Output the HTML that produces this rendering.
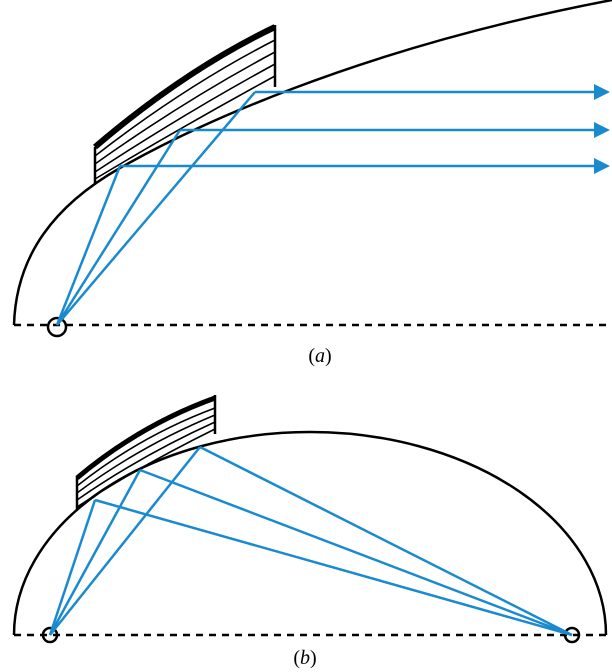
<!DOCTYPE html>
<html><head><meta charset="utf-8"><style>body{margin:0;background:#fff}svg{display:block}</style></head>
<body>
<svg width="612" height="672" viewBox="0 0 612 672">
<g fill="none">
  <path d="M14,325 C16,255 55,205 120,168 S350,50 612,0" stroke="#000" stroke-width="2.5"/>
  <line x1="14" y1="325" x2="612" y2="325" stroke="#000" stroke-width="2.5" stroke-dasharray="7,6"/>
  <circle cx="57" cy="327" r="9" stroke="#000" stroke-width="2.5"/>
  <g stroke="#000">
    <line x1="95" y1="184" x2="95" y2="147" stroke-width="2.5"/>
    <line x1="275" y1="87" x2="275" y2="25" stroke-width="2.5"/>
    <path d="M95,147 Q185,70 275,27" stroke-width="6"/>
    <path d="M95,156 Q185,86 275,40" stroke-width="1.6"/>
    <path d="M95,164 Q185,100 275,52" stroke-width="1.6"/>
    <path d="M95,172 Q185,113 275,64" stroke-width="1.6"/>
    <path d="M95,179 Q185,125 275,76" stroke-width="1.6"/>
  </g>
  <g stroke="#1a8ad0" stroke-width="2.5">
    <line x1="57" y1="325" x2="120" y2="166"/><line x1="57" y1="325" x2="180" y2="130"/><line x1="57" y1="325" x2="255" y2="92"/>
    <line x1="120" y1="166" x2="600" y2="166"/><line x1="180" y1="130" x2="600" y2="130"/><line x1="255" y1="92" x2="600" y2="92"/>
  </g>
  <g fill="#1a8ad0">
    <polygon points="594,158 610,166 594,174"/><polygon points="594,122 610,130 594,138"/><polygon points="594,84 610,92 594,100"/>
  </g>
</g>
<text x="320" y="362" font-family="Liberation Serif, serif" font-size="20" text-anchor="middle">(<tspan font-style="italic">a</tspan>)</text>
<g fill="none">
  <path d="M14,635 A296,203 0 0 1 606,635" stroke="#000" stroke-width="2.5"/>
  <line x1="14" y1="635" x2="612" y2="635" stroke="#000" stroke-width="2.5" stroke-dasharray="7,6"/>
  <circle cx="50" cy="635" r="7" stroke="#000" stroke-width="2.5"/>
  <circle cx="572" cy="635" r="7" stroke="#000" stroke-width="2.5"/>
  <g stroke="#000">
    <line x1="77" y1="510" x2="77" y2="477" stroke-width="2.5"/>
    <line x1="215" y1="434" x2="215" y2="395" stroke-width="2.5"/>
    <path d="M77,478 Q140,425 215,398" stroke-width="5"/>
    <path d="M77,486 Q140,436 215,408" stroke-width="1.6"/>
    <path d="M77,493 Q140,446 215,415" stroke-width="1.6"/>
    <path d="M77,500 Q140,456 215,422" stroke-width="1.6"/>
    <path d="M77,507 Q140,466 215,429" stroke-width="1.6"/>
  </g>
  <g stroke="#1a8ad0" stroke-width="2.5">
    <line x1="50" y1="635" x2="95" y2="500"/><line x1="50" y1="635" x2="140" y2="470"/><line x1="50" y1="635" x2="200" y2="447"/>
    <line x1="95" y1="500" x2="572" y2="635"/><line x1="140" y1="470" x2="572" y2="635"/><line x1="200" y1="447" x2="572" y2="635"/>
  </g>
</g>
<text x="305" y="664" font-family="Liberation Serif, serif" font-size="20" text-anchor="middle">(<tspan font-style="italic">b</tspan>)</text>
</svg>
</body></html>
